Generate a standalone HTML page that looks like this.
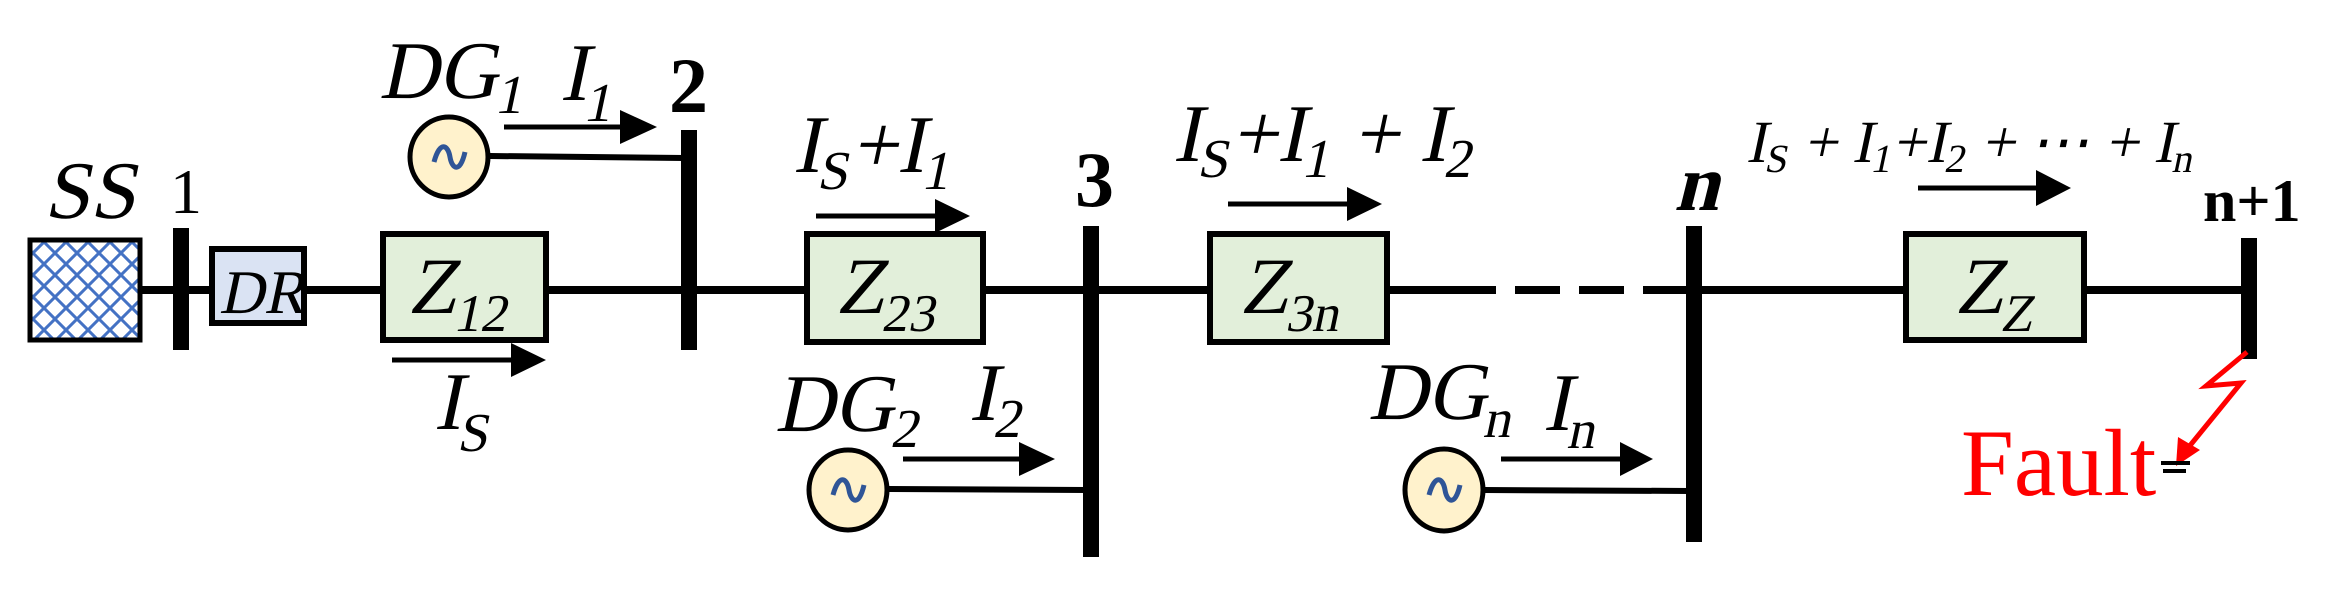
<!DOCTYPE html>
<html><head><meta charset="utf-8"><style>
html,body{margin:0;padding:0;background:#fff;}
svg{display:block;}
text{font-family:"Liberation Serif","DejaVu Serif",serif;font-style:normal;}
</style></head><body>
<svg width="2330" height="592" viewBox="0 0 2330 592" xmlns="http://www.w3.org/2000/svg" font-family="Liberation Serif, serif">
<defs>
<pattern id="hatch" width="22" height="22" patternUnits="userSpaceOnUse">
<path d="M-2,24 L24,-2 M-2,2 L2,-2 M20,24 L24,20 M-2,-2 L24,24 M-2,20 L2,24 M20,-2 L24,2" stroke="#4472c4" stroke-width="3" fill="none"/>
</pattern>
</defs>
<line x1="141" y1="290" x2="1389" y2="290" stroke="#000" stroke-width="8"/>
<line x1="1389" y1="290" x2="1451" y2="290" stroke="#000" stroke-width="8"/>
<line x1="1451" y1="290" x2="1690" y2="290" stroke="#000" stroke-width="8" stroke-dasharray="45,19"/>
<line x1="1690" y1="290" x2="2250" y2="290" stroke="#000" stroke-width="8"/>
<rect x="30" y="240" width="110" height="100" fill="#fff"/>
<rect x="30" y="240" width="110" height="100" fill="url(#hatch)" stroke="#000" stroke-width="5"/>
<text transform="translate(44,218) skewX(-12)" font-size="82">SS</text>
<rect x="173" y="228" width="16" height="122" fill="#000"/>
<text x="170" y="213" font-size="64">1</text>
<rect x="212" y="249" width="92" height="74" fill="#dae3f3" stroke="#000" stroke-width="6"/>
<text transform="translate(219,313) skewX(-12)" font-size="62">DR</text>
<rect x="383" y="234" width="163" height="106" fill="#e2efda" stroke="#000" stroke-width="6"/>
<text transform="translate(408,313) skewX(-12)" font-size="80">Z<tspan font-size="53" dy="18">12</tspan></text>
<rect x="807" y="234" width="176" height="108" fill="#e2efda" stroke="#000" stroke-width="6"/>
<text transform="translate(836,313) skewX(-12)" font-size="80">Z<tspan font-size="53" dy="18">23</tspan></text>
<rect x="1210" y="234" width="177" height="108" fill="#e2efda" stroke="#000" stroke-width="6"/>
<text transform="translate(1240,313) skewX(-12)" font-size="80">Z<tspan font-size="53" dy="18">3n</tspan></text>
<rect x="1906" y="234" width="178" height="106" fill="#e2efda" stroke="#000" stroke-width="6"/>
<text transform="translate(1955,313) skewX(-12)" font-size="80">Z<tspan font-size="53" dy="18">Z</tspan></text>
<rect x="681" y="130" width="16" height="220" fill="#000"/>
<text x="669" y="112" font-size="78" font-weight="bold">2</text>
<rect x="1083" y="226" width="16" height="331" fill="#000"/>
<text x="1075" y="206" font-size="78" font-weight="bold">3</text>
<rect x="1686" y="226" width="16" height="316" fill="#000"/>
<text transform="translate(1674,210) skewX(-14)" font-size="80" font-weight="bold">n</text>
<rect x="2241" y="238" width="16" height="121" fill="#000"/>
<text x="2203" y="221" font-size="60" font-weight="bold"><tspan>n</tspan>+1</text>
<line x1="490" y1="156" x2="684" y2="158" stroke="#000" stroke-width="6"/>
<ellipse cx="449" cy="157" rx="39" ry="40" fill="#fff2cc" stroke="#000" stroke-width="5"/>
<path d="M434,162 C440,140 448,145 450,157 C452,169 460,174 465,152" stroke="#2f5597" stroke-width="5" fill="none"/>
<text transform="translate(379,98) skewX(-12)" font-size="82">DG<tspan font-size="55" dy="15">1</tspan></text>
<line x1="504" y1="127" x2="625" y2="127" stroke="#000" stroke-width="5"/>
<polygon points="620,110 657,127 620,144" fill="#000"/>
<text transform="translate(560,100) skewX(-12)" font-size="82">I<tspan font-size="55" dy="21">1</tspan></text>
<line x1="392" y1="360" x2="515" y2="360" stroke="#000" stroke-width="5"/>
<polygon points="511,343 546,360 511,377" fill="#000"/>
<text transform="translate(434,429) skewX(-12)" font-size="82">I<tspan font-size="55" dy="22">S</tspan></text>
<text transform="translate(793,172) skewX(-12)" font-size="82">I<tspan font-size="55" dy="17">S</tspan><tspan dy="-17">+</tspan>I<tspan font-size="55" dy="17">1</tspan></text>
<line x1="816" y1="216" x2="940" y2="216" stroke="#000" stroke-width="5"/>
<polygon points="935,199 970,216 935,233" fill="#000"/>
<line x1="889" y1="489" x2="1086" y2="490" stroke="#000" stroke-width="6"/>
<ellipse cx="848" cy="490" rx="39" ry="40" fill="#fff2cc" stroke="#000" stroke-width="5"/>
<path d="M833,495 C839,473 847,478 849,490 C851,502 859,507 864,485" stroke="#2f5597" stroke-width="5" fill="none"/>
<text transform="translate(775,431) skewX(-12)" font-size="82">DG<tspan font-size="55" dy="16">2</tspan></text>
<line x1="903" y1="459" x2="1024" y2="459" stroke="#000" stroke-width="5"/>
<polygon points="1019,442 1055,459 1019,476" fill="#000"/>
<text transform="translate(969,420) skewX(-12)" font-size="82">I<tspan font-size="55" dy="17">2</tspan></text>
<text transform="translate(1173,161) skewX(-12)" font-size="82">I<tspan font-size="55" dy="16">S</tspan><tspan dy="-16">+</tspan>I<tspan font-size="55" dy="16">1</tspan><tspan dy="-16"> + </tspan>I<tspan font-size="55" dy="16">2</tspan></text>
<line x1="1228" y1="204" x2="1352" y2="204" stroke="#000" stroke-width="5"/>
<polygon points="1347,187 1382,204 1347,221" fill="#000"/>
<line x1="1484" y1="490" x2="1690" y2="491" stroke="#000" stroke-width="6"/>
<ellipse cx="1444" cy="490" rx="39" ry="41" fill="#fff2cc" stroke="#000" stroke-width="5"/>
<path d="M1429,495 C1435,473 1443,478 1445,490 C1447,502 1455,507 1460,485" stroke="#2f5597" stroke-width="5" fill="none"/>
<text transform="translate(1368,419) skewX(-12)" font-size="82">DG<tspan font-size="55" dy="18">n</tspan></text>
<line x1="1501" y1="459" x2="1625" y2="459" stroke="#000" stroke-width="5"/>
<polygon points="1620,442 1653,459 1620,476" fill="#000"/>
<text transform="translate(1543,430) skewX(-12)" font-size="82">I<tspan font-size="55" dy="18">n</tspan></text>
<text transform="translate(1746,162) skewX(-12)" font-size="60">I<tspan font-size="40" dy="10">S</tspan><tspan dy="-10"> + </tspan>I<tspan font-size="40" dy="10">1</tspan><tspan dy="-10">+</tspan>I<tspan font-size="40" dy="10">2</tspan><tspan dy="-10"> + ⋯ + </tspan>I<tspan font-size="40" dy="10">n</tspan></text>
<line x1="1918" y1="188" x2="2040" y2="188" stroke="#000" stroke-width="5"/>
<polygon points="2036,170 2071,188 2036,206" fill="#000"/>
<polyline points="2247,352 2206,386 2241,383 2188,448" stroke="#ff0000" stroke-width="5" fill="none"/>
<polygon points="2176,466 2178,437 2200,450" fill="#ff0000"/>
<text x="1961" y="495" font-size="95" fill="#ff0000">Fault</text>
<line x1="2161" y1="463" x2="2190" y2="463" stroke="#000" stroke-width="4"/>
<line x1="2163" y1="471" x2="2186" y2="471" stroke="#000" stroke-width="4"/>
</svg>
</body></html>
